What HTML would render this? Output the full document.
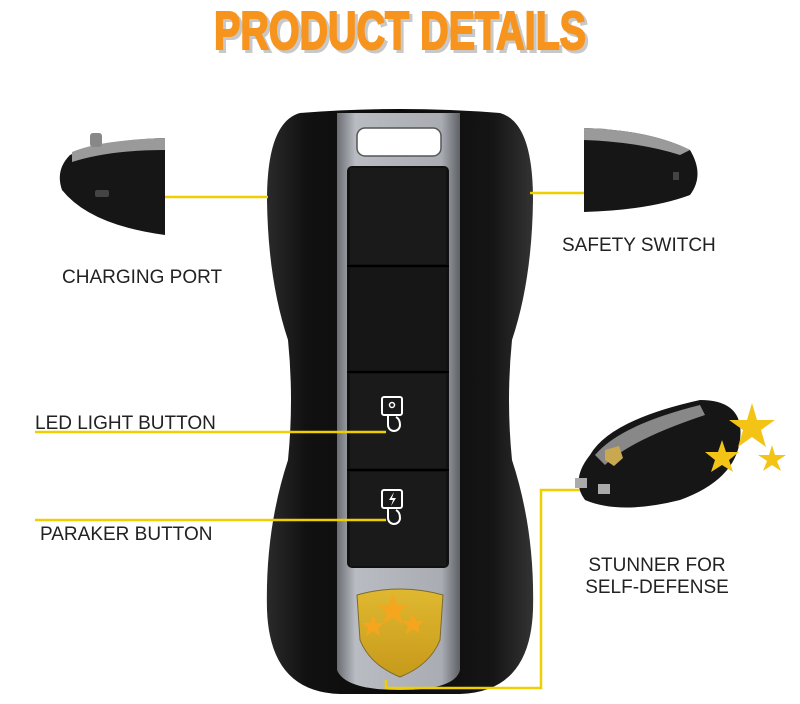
<!DOCTYPE html>
<html><head><meta charset="utf-8"><style>
html,body{margin:0;padding:0;background:#fff;}
svg{display:block}
text{font-family:"Liberation Sans",sans-serif}
</style></head><body>
<svg width="800" height="704" viewBox="0 0 800 704" xmlns="http://www.w3.org/2000/svg">
<defs>
<linearGradient id="body" x1="0" x2="1" y1="0" y2="0">
<stop offset="0" stop-color="#2a2a2a"/><stop offset="0.15" stop-color="#111"/><stop offset="0.5" stop-color="#0a0a0a"/><stop offset="0.85" stop-color="#151515"/><stop offset="1" stop-color="#333"/>
</linearGradient>
<linearGradient id="silver" x1="0" x2="1" y1="0" y2="0">
<stop offset="0" stop-color="#6a6d72"/><stop offset="0.15" stop-color="#b9bcc2"/><stop offset="0.85" stop-color="#a9acb2"/><stop offset="1" stop-color="#5e6166"/>
</linearGradient>
<linearGradient id="gold" x1="0" x2="0" y1="0" y2="1">
<stop offset="0" stop-color="#e0b830"/><stop offset="1" stop-color="#c79a1a"/>
</linearGradient>
</defs>
<!-- title -->
<text x="400" y="49" text-anchor="middle" font-size="54" font-weight="bold" fill="#c8c8c8" stroke="#c8c8c8" stroke-width="2" textLength="372" lengthAdjust="spacingAndGlyphs" transform="translate(3,3)">PRODUCT DETAILS</text>
<text x="400" y="49" text-anchor="middle" font-size="54" font-weight="bold" fill="#f7941d" stroke="#f7941d" stroke-width="2" textLength="372" lengthAdjust="spacingAndGlyphs">PRODUCT DETAILS</text>

<!-- main device body -->
<path d="M300,113 Q400,105 500,113 Q533,122 533,200 Q532,280 512,340 Q506,400 512,460 Q535,530 533,610 Q530,692 460,694 L340,694 Q270,692 267,610 Q265,530 288,460 Q294,400 288,340 Q268,280 267,200 Q267,122 300,113 Z" fill="url(#body)"/>
<!-- silver strip -->
<path d="M337,113 L460,113 L460,670 Q455,690 400,690 Q345,690 337,670 Z" fill="url(#silver)"/>
<!-- keyhole -->
<rect x="357" y="128" width="84" height="28" rx="8" fill="#fff" stroke="#555" stroke-width="1.5"/>
<!-- button panel -->
<rect x="347" y="166" width="102" height="402" rx="5" fill="#111"/>
<g stroke="#000" stroke-width="2">
<line x1="347" y1="266" x2="449" y2="266"/>
<line x1="347" y1="372" x2="449" y2="372"/>
<line x1="347" y1="470" x2="449" y2="470"/>
</g>
<rect x="350" y="168" width="96" height="96" fill="#1a1a1a"/>
<rect x="350" y="268" width="96" height="102" fill="#161616"/>
<rect x="350" y="374" width="96" height="94" fill="#1a1a1a"/>
<rect x="350" y="472" width="96" height="94" fill="#1a1a1a"/>

<!-- yellow lines -->
<g stroke="#f0cf00" stroke-width="2.5" fill="none">
<line x1="163" y1="197" x2="268" y2="197"/>
<line x1="530" y1="193" x2="584" y2="193"/>
<line x1="35" y1="432" x2="386" y2="432"/>
<line x1="35" y1="520" x2="386" y2="520"/>
<polyline points="580,490 541,490 541,688 386,688 386,680"/>
</g>

<!-- icons -->
<g stroke="#fff" stroke-width="2" fill="none">
<rect x="382" y="397" width="20" height="18" rx="2"/>
<path d="M388,415 v10 a6,6 0 0 0 12,0 q0,-6 -4,-8"/>
<circle cx="392" cy="405" r="2.5" stroke-width="1.5"/>
<rect x="382" y="490" width="20" height="18" rx="2"/>
<path d="M388,508 v10 a6,6 0 0 0 12,0 q0,-6 -4,-8"/>
</g>
<path d="M394,492 l-5,8 h4 l-2,6 5,-8 h-4 z" fill="#fff"/>
<!-- shield -->
<path d="M357,595 Q400,583 443,595 L440,640 Q430,665 400,677 Q370,665 360,640 Z" fill="url(#gold)" stroke="#7a6a30" stroke-width="1"/>
<g fill="#f6a51e">
<polygon points="393,593 397,605 409,605 399,612 403,624 393,617 383,624 387,612 377,605 389,605"/>
<polygon points="373,615 376,623 384,623 378,628 380,636 373,631 366,636 368,628 362,623 370,623"/>
<polygon points="413,613 416,621 424,621 418,626 420,634 413,629 406,634 408,626 402,621 410,621"/>
</g>

<!-- left side device -->
<path d="M70,155 Q100,140 165,138 L165,235 Q90,225 62,190 Q55,170 70,155 Z" fill="#161616"/>
<path d="M72,152 Q100,140 165,138 L165,150 Q110,150 72,162 Z" fill="#9a9a9a"/>
<rect x="90" y="133" width="12" height="14" rx="3" fill="#888"/>
<rect x="95" y="190" width="14" height="7" rx="2" fill="#444"/>
<!-- right side device -->
<path d="M584,128 Q650,130 690,150 Q705,175 690,195 Q650,210 584,212 Z" fill="#161616"/>
<path d="M584,128 Q650,130 690,150 L680,155 Q640,142 584,140 Z" fill="#9a9a9a"/>
<rect x="673" y="172" width="6" height="8" fill="#444"/>
<!-- bottom right device -->
<path d="M590,455 Q610,420 700,400 Q745,400 740,440 Q735,480 680,500 Q620,515 585,500 Q570,480 590,455 Z" fill="#161616"/>
<path d="M595,455 Q620,425 700,405 L705,415 Q630,440 605,465 Z" fill="#888"/>
<path d="M605,450 l14,-4 l4,12 l-9,8 l-9,-6 z" fill="#c9a850"/>
<rect x="575" y="478" width="12" height="10" fill="#aaa"/>
<rect x="598" y="484" width="12" height="10" fill="#aaa"/>
<g fill="#f3c316">
<polygon points="752,403 757,420 775,420 761,430 766,447 752,437 738,447 743,430 729,420 747,420"/>
<polygon points="722,440 726,452 739,452 729,460 733,472 722,465 711,472 715,460 705,452 718,452"/>
<polygon points="772,445 775,455 786,455 777,461 781,471 772,465 763,471 767,461 758,455 769,455"/>
</g>

<!-- labels -->
<g font-size="19" fill="#222">
<text x="62" y="283">CHARGING PORT</text>
<text x="562" y="251">SAFETY SWITCH</text>
<text x="35" y="429">LED LIGHT BUTTON</text>
<text x="40" y="540">PARAKER BUTTON</text>
<text x="657" y="571" text-anchor="middle">STUNNER FOR</text>
<text x="657" y="593" text-anchor="middle">SELF-DEFENSE</text>
</g>
</svg>
</body></html>
